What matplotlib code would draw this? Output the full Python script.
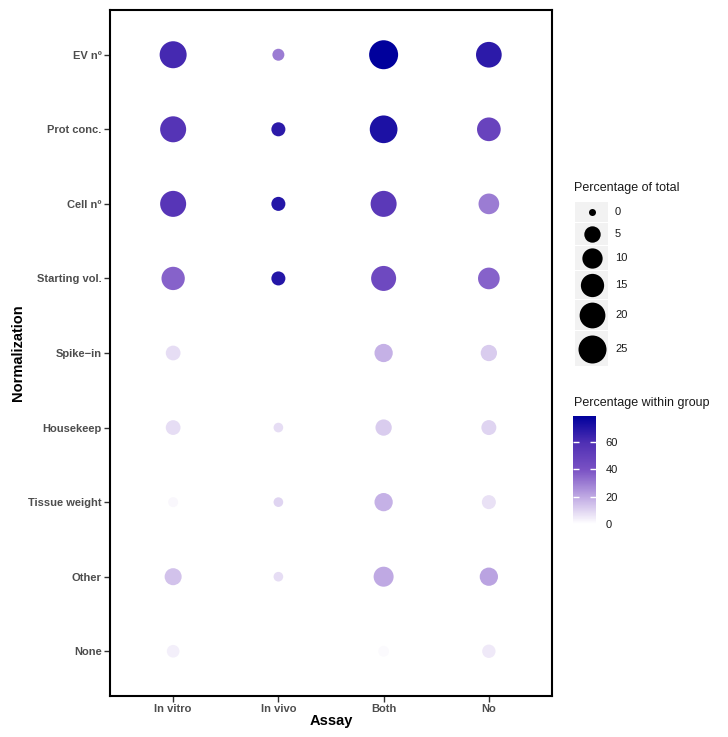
import numpy as np
import matplotlib
matplotlib.use("Agg")
import matplotlib.pyplot as plt
from matplotlib.colors import LinearSegmentedColormap, Normalize
from matplotlib.patches import Rectangle

plt.rcParams['font.family'] = ['Liberation Sans', 'DejaVu Sans']

### data
assays = ["In vitro", "In vivo", "Both", "No"]
norms = ["EV nº", "Prot conc.", "Cell nº", "Starting vol.", "Spike\u2212in",
         "Housekeep", "Tissue weight", "Other", "None"]

# percentage of total (size), rows = norms, cols = assays
pct_total = np.array([
    [22.7, 1.4, 27.4, 19.8],
    [20.5, 2.8, 24.3, 15.8],
    [20.5, 2.8, 20.5, 10.6],
    [15.1, 2.8, 18.4, 12.2],
    [3.4, np.nan, 7.2, 4.9],
    [3.4, 0.4, 4.9, 3.6],
    [0.5, 0.4, 7.2, 2.8],
    [5.7, 0.4, 9.6, 7.2],
    [1.8, np.nan, 0.8, 2.3],
])
# percentage within group (colour)
pct_group = np.array([
    [62, 30, 79, 68],
    [57, 68, 72, 48],
    [56, 70, 54, 30],
    [36, 70, 45, 36],
    [8, np.nan, 18, 12],
    [8, 8, 12, 10],
    [2, 10, 18, 7],
    [14, 8, 20, 21],
    [4, np.nan, 1.5, 5],
])

size_breaks = [0, 5, 10, 15, 20, 25]
color_ticks = [0, 20, 40, 60]
cmax = 79

cmap = LinearSegmentedColormap.from_list(
    "wp", [(0, "#ffffff"), (0.25, "#bfa9e3"), (0.5, "#7a52c4"),
           (0.75, "#5030b4"), (1, "#00009c")])
cnorm = Normalize(0, cmax)


def msize(v):
    d_px = 7 + 4.2 * np.sqrt(v)
    return (d_px * 0.72) ** 2


W, H = 728, 737
fig = plt.figure(figsize=(W / 100, H / 100), dpi=100)

### main panel
ax = fig.add_axes([110 / W, 1 - 696 / H, 442 / W, 686 / H])
xx, yy = np.meshgrid(np.arange(len(assays)), np.arange(len(norms)))
ok = ~np.isnan(pct_total)
sc = ax.scatter(xx[ok], yy[ok], s=msize(pct_total[ok]), c=pct_group[ok],
                cmap=cmap, norm=cnorm, linewidths=0, zorder=3)
ax.set_xlim(-0.6, len(assays) - 0.4)
ax.set_ylim(len(norms) - 0.4, -0.6)
ax.set_xticks(range(len(assays)))
ax.set_xticklabels(assays)
ax.set_yticks(range(len(norms)))
ax.set_yticklabels(norms)
for lab in ax.get_xticklabels() + ax.get_yticklabels():
    lab.set_fontweight('bold')
ax.tick_params(length=4, width=1, color="#333333", labelcolor="#4d4d4d",
               labelsize=8, pad=2)
for sp in ax.spines.values():
    sp.set_linewidth(1.5)
    sp.set_color("black")
ax.set_xlabel("Assay", fontsize=10.5, fontweight='bold', labelpad=0)
ax.set_ylabel("Normalization", fontsize=10.5, fontweight='bold', labelpad=2)

### size legend
lg = fig.add_axes([0, 0, 1, 1], zorder=-1)
lg.set_xlim(0, W)
lg.set_ylim(H, 0)
lg.axis('off')
fig.text(574 / W, 1 - 188 / H, "Percentage of total", fontsize=9,
         va='center', ha='left', color="#1a1a1a")
key_edges = [202, 223, 246, 271, 300, 331, 367]
for i, v in enumerate(size_breaks):
    y0, y1 = key_edges[i], key_edges[i + 1] - 1
    lg.add_patch(Rectangle((575, y0), 33, y1 - y0, facecolor="#f2f2f2",
                           edgecolor='none'))
    yc = (y0 + y1) / 2
    lg.scatter([591.5], [yc], s=msize(v), color='black', linewidths=0)
    lg.text(615, yc, str(v), fontsize=8, va='center', ha='left',
            color="#1a1a1a")

### colour legend
fig.text(574 / W, 1 - 403 / H, "Percentage within group", fontsize=9,
         va='center', ha='left', color="#1a1a1a")
cax = fig.add_axes([573 / W, 1 - 524 / H, 23 / W, 108 / H])
cb = fig.colorbar(sc, cax=cax, ticks=color_ticks)
cb.outline.set_visible(False)
cax.tick_params(left=True, right=True, direction='in', color='white',
                length=4, width=1, labelsize=8, labelcolor="#1a1a1a", pad=7)

fig.savefig("out.png", dpi=100)
